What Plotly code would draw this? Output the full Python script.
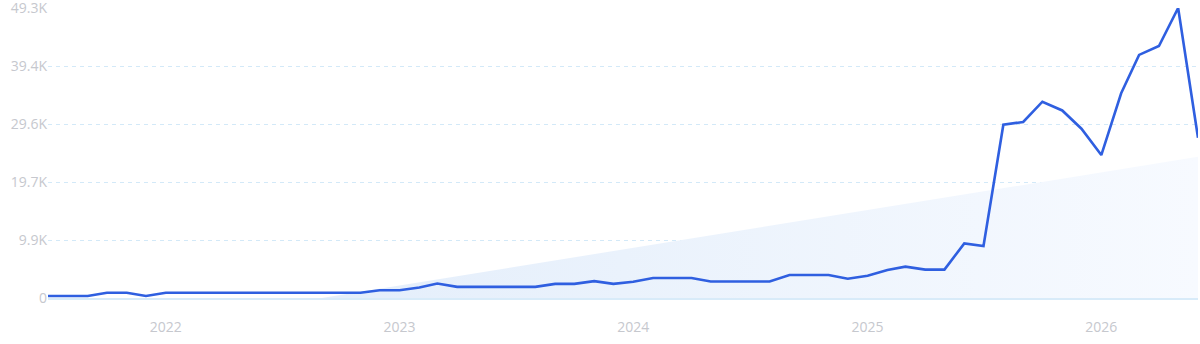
import pandas as pd
import plotly.graph_objects as go

# Monthly dates (categories)
dates = pd.date_range("2021-07-01", periods=60, freq="MS")

# Series values
values = [
    350, 350, 350, 900, 900, 350,
    900, 900, 900, 900, 900, 900, 900, 900, 900, 900, 900,
    1320, 1320, 1770, 2460, 1890, 1890, 1890, 1890, 1890,
    2400, 2400, 2870, 2400, 2750, 3390, 3390, 3390,
    2800, 2800, 2800, 2800, 3900, 3900, 3900, 3270, 3780,
    4760, 5330, 4820, 4820, 9290, 8830,
    29460, 29930, 33370, 31880, 28780, 24300,
    34800, 41330, 42830, 49300, 27250,
]

# Trend line end points
trend_dates = ["2021-07-01", "2026-06-01"]
trend_values = [-7500, 24000]

# Axis ticks
y_tickvals = [0, 9860, 19720, 29580, 39440, 49300]
y_ticktext = ["0", "9.9K", "19.7K", "29.6K", "39.4K", "49.3K"]
x_tickvals = ["2022-01-01", "2023-01-01", "2024-01-01", "2025-01-01", "2026-01-01"]
x_ticktext = ["2022", "2023", "2024", "2025", "2026"]

fig = go.Figure()

fig.add_trace(go.Scatter(
    x=trend_dates, y=trend_values, mode="lines",
    line=dict(width=0, color="rgba(0,0,0,0)"),
    fill="tozeroy",
    fillgradient=dict(
        type="horizontal",
        colorscale=[[0, "rgba(222,234,250,1)"], [0.5, "rgba(234,242,252,1)"], [1, "rgba(247,250,255,1)"]],
    ),
    hoverinfo="skip", showlegend=False,
))

fig.add_trace(go.Scatter(
    x=dates, y=values, mode="lines",
    line=dict(color="#2f5fe0", width=2.6),
    showlegend=False,
))

fig.update_layout(
    width=1200, height=344,
    margin=dict(l=48, r=2, t=8, b=46),
    paper_bgcolor="white", plot_bgcolor="white",
    font=dict(family="Open Sans, sans-serif", size=14, color="#c6c8ce"),
)

fig.update_xaxes(
    type="date",
    range=[dates[0], dates[-1]],
    tickvals=x_tickvals, ticktext=x_ticktext,
    showgrid=False, zeroline=False,
    showline=True, linecolor="#d8ebf9", linewidth=2,
    ticks="outside", ticklen=15, tickcolor="rgba(0,0,0,0)",
    tickfont=dict(size=14, color="#c6c8ce"),
    automargin=False,
)

fig.update_yaxes(
    range=[0, 49300],
    tickvals=y_tickvals, ticktext=y_ticktext,
    showgrid=True, gridcolor="#d3e9f8", griddash="4px,4px", gridwidth=1,
    zeroline=False, showline=False,
    ticks="", tickfont=dict(size=14, color="#c6c8ce"),
    ticklabeloverflow="allow",
    automargin=False,
)

fig.write_html("out.html")
